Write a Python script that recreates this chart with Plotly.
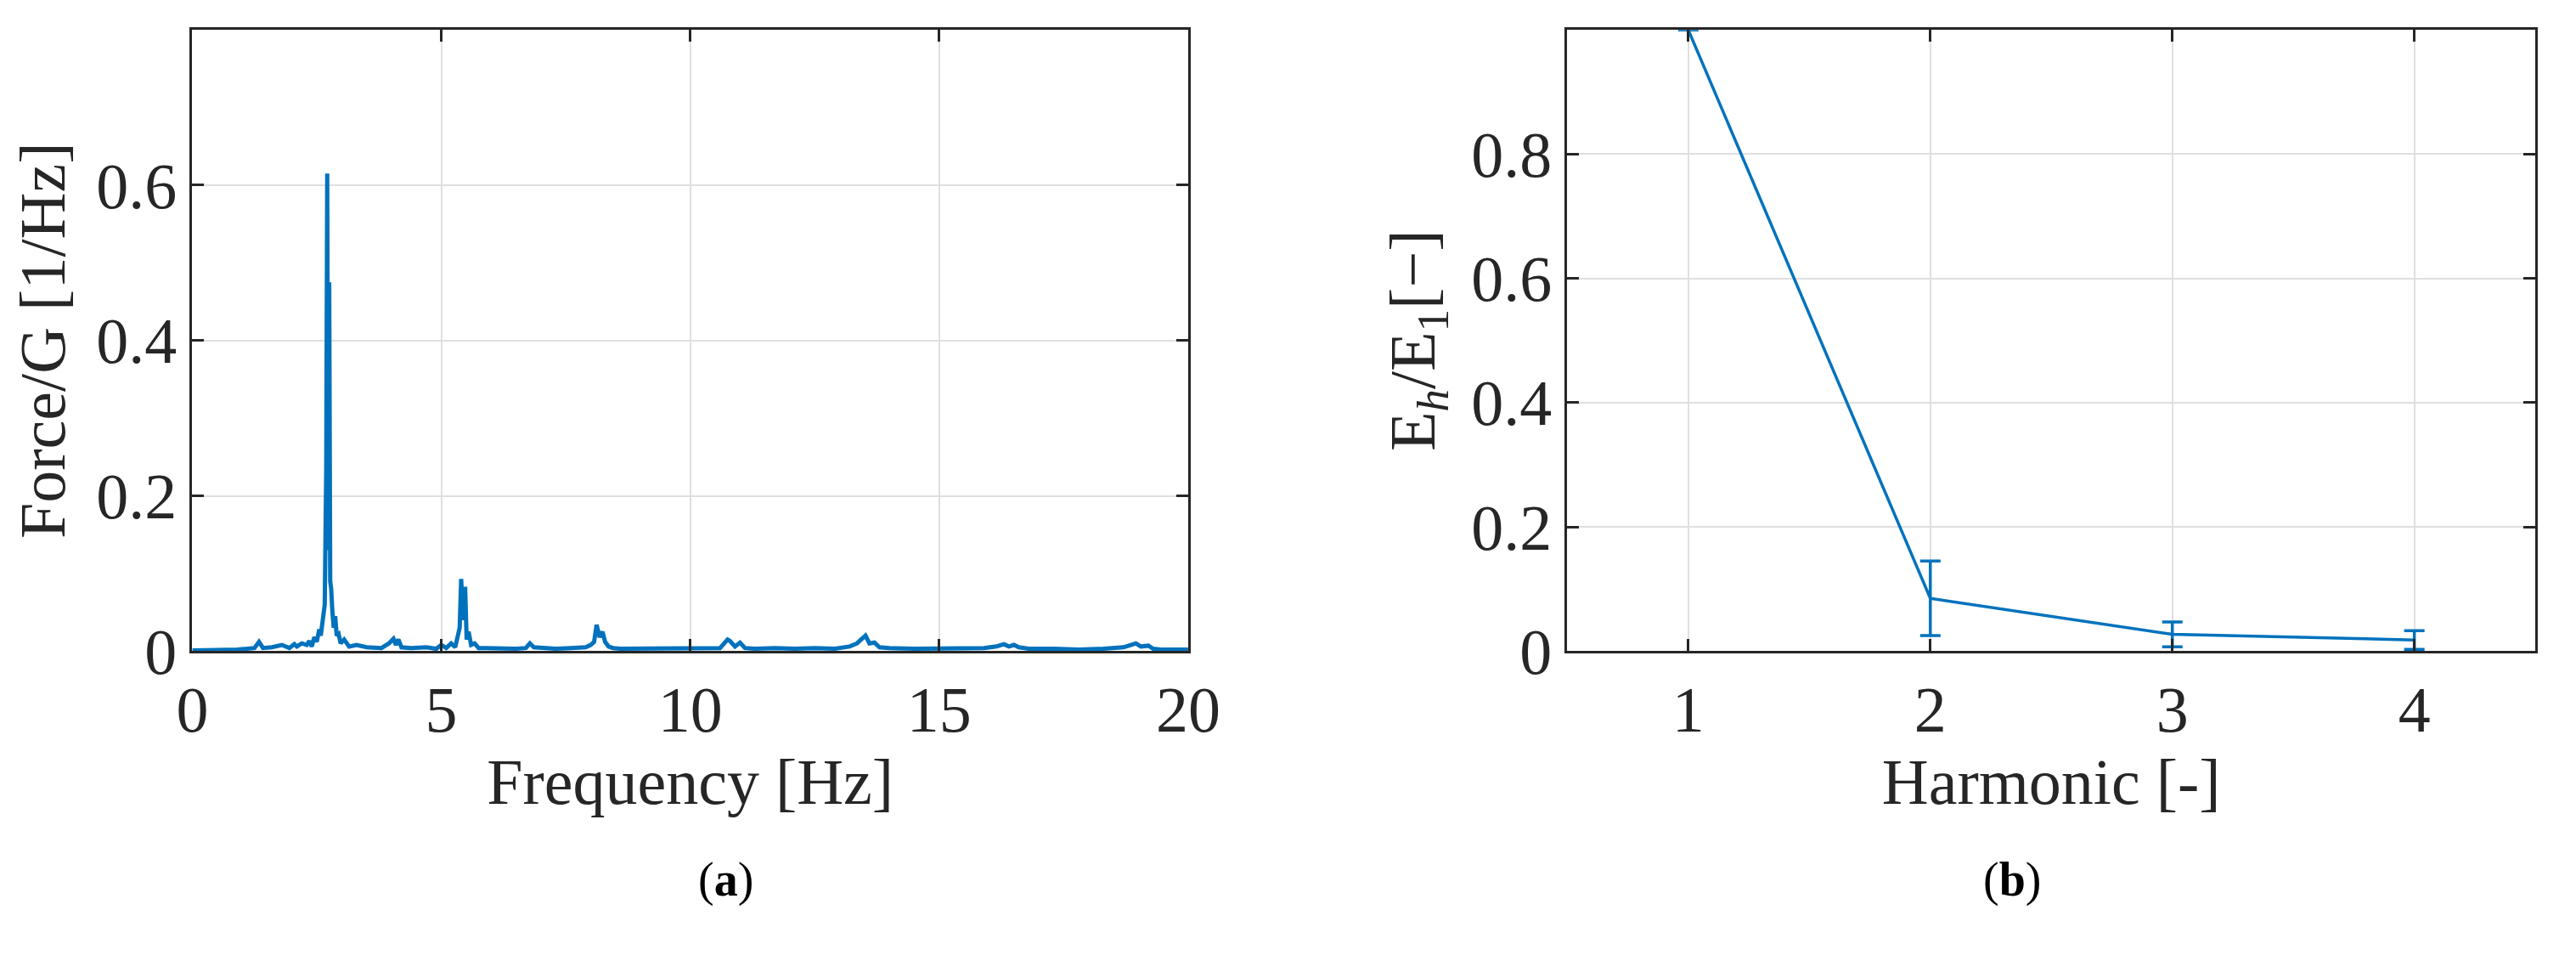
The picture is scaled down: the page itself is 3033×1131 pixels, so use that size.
import plotly.graph_objects as go

# Spectrum (panel a)
freq = [0.0, 0.3, 0.6, 0.9, 1.1, 1.25, 1.34, 1.42, 1.6, 1.8, 1.95, 2.05, 2.1, 2.2, 2.3, 2.35, 2.4, 2.45, 2.5,
        2.55, 2.58, 2.62, 2.66, 2.69, 2.71, 2.73, 2.75, 2.77, 2.79, 2.81, 2.84, 2.87, 2.9, 2.94, 2.98, 3.05,
        3.15, 3.3, 3.5, 3.8, 3.95, 4.04, 4.09, 4.14, 4.2, 4.4, 4.7, 4.9, 5.0, 5.1, 5.2, 5.28, 5.33, 5.37, 5.40,
        5.44, 5.48, 5.51, 5.55, 5.6, 5.67, 5.75, 5.9, 6.2, 6.5, 6.7, 6.78, 6.86, 7.0, 7.3, 7.6, 7.9, 8.0, 8.07,
        8.12, 8.18, 8.24, 8.29, 8.36, 8.45, 8.6, 9.0, 9.4, 9.8, 10.2, 10.6, 10.75, 10.8, 10.9, 11.0, 11.1, 11.3,
        11.7, 12.1, 12.5, 12.9, 13.2, 13.35, 13.45, 13.52, 13.6, 13.7, 13.8, 14.0, 14.5, 15.0, 15.5, 15.9,
        16.15, 16.3, 16.4, 16.5, 16.6, 16.8, 17.3, 17.8, 18.3, 18.7, 18.85, 18.95, 19.05, 19.2, 19.3, 19.45,
        19.7, 20.0]
amp = [0.001, 0.001, 0.002, 0.002, 0.003, 0.004, 0.012, 0.004, 0.005, 0.008, 0.004, 0.009, 0.006, 0.010,
       0.008, 0.013, 0.006, 0.018, 0.012, 0.028, 0.020, 0.045, 0.060, 0.235, 0.615, 0.130, 0.475, 0.090,
       0.080, 0.055, 0.030, 0.045, 0.020, 0.022, 0.010, 0.015, 0.006, 0.008, 0.005, 0.004, 0.010, 0.016,
       0.008, 0.015, 0.005, 0.004, 0.005, 0.003, 0.008, 0.004, 0.010, 0.005, 0.020, 0.030, 0.093, 0.040,
       0.083, 0.015, 0.025, 0.008, 0.010, 0.004, 0.004, 0.003, 0.003, 0.004, 0.010, 0.005, 0.004, 0.003,
       0.004, 0.005, 0.008, 0.012, 0.034, 0.018, 0.025, 0.012, 0.006, 0.004, 0.003, 0.003, 0.003, 0.003,
       0.004, 0.004, 0.015, 0.013, 0.006, 0.011, 0.004, 0.003, 0.004, 0.003, 0.004, 0.003, 0.006, 0.010,
       0.016, 0.020, 0.010, 0.011, 0.005, 0.004, 0.003, 0.003, 0.003, 0.004, 0.006, 0.009, 0.006, 0.008,
       0.005, 0.003, 0.003, 0.002, 0.003, 0.005, 0.008, 0.010, 0.006, 0.007, 0.003, 0.002, 0.002, 0.002]

# Harmonic ratios (panel b)
harmonic = [1, 2, 3, 4]
ratio = [1.0, 0.085, 0.027, 0.018]
ratio_err = [0.0, 0.06, 0.02, 0.015]

BLUE = "#0072BD"
AX = "#262626"
FONT = "Liberation Serif"

fig = go.Figure()
fig.add_trace(go.Scatter(x=freq, y=amp, mode="lines", line=dict(color=BLUE, width=5),
                         xaxis="x", yaxis="y", showlegend=False))
fig.add_trace(go.Scatter(x=harmonic, y=ratio, mode="lines", line=dict(color=BLUE, width=3.5),
                         error_y=dict(type="data", array=ratio_err, color=BLUE, thickness=3.5, width=12),
                         xaxis="x2", yaxis="y2", showlegend=False))

axcommon = dict(showline=True, linecolor=AX, linewidth=3, mirror="ticks", ticks="inside",
                ticklen=14, tickwidth=3, tickcolor=AX, showgrid=True, gridcolor="#DFDFDF", gridwidth=2,
                zeroline=False, tickfont=dict(family=FONT, size=76, color=AX),
                title_font=dict(family=FONT, size=76, color=AX))

fig.update_layout(
    width=3033, height=1131, paper_bgcolor="white", plot_bgcolor="white",
    margin=dict(l=0, r=0, t=0, b=0),
    xaxis=dict(domain=[0.067, 0.461], range=[0, 20], tickvals=[0, 5, 10, 15, 20],
               title=dict(text="Frequency [Hz]", standoff=18), anchor="y", **axcommon),
    yaxis=dict(domain=[0.303, 0.975], range=[0, 0.8], tickvals=[0, 0.2, 0.4, 0.6, 0.8],
               ticktext=["0", "0.2", "0.4", "0.6", "0.8"],
               title=dict(text="Force/G [1/Hz]", standoff=18), anchor="x", **axcommon),
    xaxis2=dict(domain=[0.611, 0.994], range=[0.5, 4.5], tickvals=[1, 2, 3, 4],
                title=dict(text="Harmonic [-]", standoff=18), anchor="y2", **axcommon),
    yaxis2=dict(domain=[0.303, 0.975], range=[0, 1], tickvals=[0, 0.2, 0.4, 0.6, 0.8, 1],
                ticktext=["0", "0.2", "0.4", "0.6", "0.8", "1"],
                title=dict(text="E<sub><i>h</i></sub>/E<sub>1</sub>[−]", standoff=18),
                anchor="x2", **axcommon),
    annotations=[
        dict(text="(<b>a</b>)", x=0.2665, y=0.025, xref="paper", yref="paper", showarrow=False,
             font=dict(family=FONT, size=56, color="black")),
        dict(text="(<b>b</b>)", x=0.799, y=0.025, xref="paper", yref="paper", showarrow=False,
             font=dict(family=FONT, size=56, color="black")),
    ],
)

fig.write_html("out.html")
